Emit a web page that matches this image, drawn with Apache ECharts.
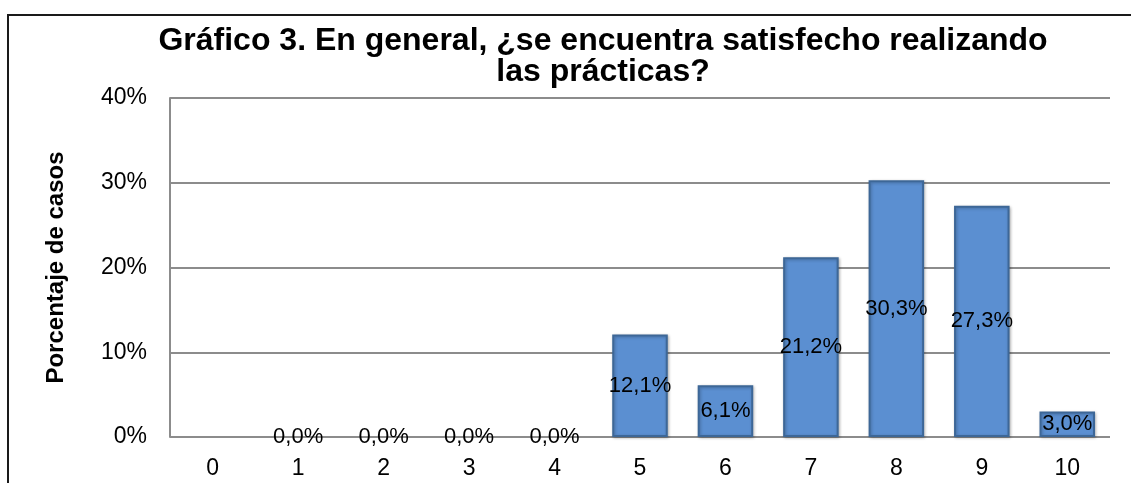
<!DOCTYPE html>
<html>
<head>
<meta charset="utf-8">
<script src="https://cdn.jsdelivr.net/npm/echarts@6/dist/echarts.min.js"></script>
<style>
  html, body { margin: 0; padding: 0; background: #fff; }
  #main { width: 1131px; height: 483px; }
</style>
</head>
<body>
<div id="main"></div>
<script>
// datos del gráfico
var categorias = ['0', '1', '2', '3', '4', '5', '6', '7', '8', '9', '10']
var porcentajes = [null, 0, 0, 0, 0, 12.1, 6.1, 21.2, 30.3, 27.3, 3.0]
var ticksY = [0, 10, 20, 30, 40]

var fuente = 'Liberation Sans, Arial, sans-serif'
var chart = echarts.init(document.getElementById('main'))

// las barras en cero no muestran borde
var datosBarras = porcentajes.map(function (v) {
  if (v === 0) return { value: v, itemStyle: { borderWidth: 0, shadowBlur: 0, shadowOffsetX: 0, shadowOffsetY: 0 } }
  return v
})

var option = {
  backgroundColor: '#fff',
  animation: false,
  title: {
    text: 'Gráfico 3. En general, ¿se encuentra satisfecho realizando\nlas prácticas?',
    left: 598,
    textAlign: 'center',
    top: 21,
    textStyle: {
      fontFamily: fuente,
      fontSize: 32,
      fontWeight: 'bold',
      color: '#000',
      lineHeight: 31
    }
  },
  // marco exterior
  graphic: [{
    type: 'rect',
    shape: { x: 8, y: 15, width: 1300, height: 700 },
    style: { fill: 'none', stroke: '#1a1a1a', lineWidth: 2 },
    silent: true
  }],
  grid: { left: 170, right: 21, top: 98, bottom: 46 },
  xAxis: {
    type: 'category',
    data: categorias,
    axisTick: { show: false },
    axisLine: { show: false },
    axisLabel: {
      fontFamily: fuente,
      fontSize: 23,
      color: '#000',
      margin: 20
    }
  },
  yAxis: {
    type: 'value',
    min: ticksY[0],
    max: ticksY[ticksY.length - 1],
    interval: 10,
    name: 'Porcentaje de casos',
    nameLocation: 'middle',
    nameGap: 102,
    nameTextStyle: {
      fontFamily: fuente,
      fontSize: 24,
      fontWeight: 'bold',
      color: '#000'
    },
    axisLine: { show: true, lineStyle: { color: '#8c8c8c', width: 2 } },
    axisTick: { show: false },
    splitLine: { lineStyle: { color: '#8c8c8c', width: 2 } },
    axisLabel: {
      fontFamily: fuente,
      fontSize: 23,
      color: '#000',
      margin: 23,
      formatter: '{value}%'
    }
  },
  series: [{
    type: 'bar',
    data: datosBarras,
    barWidth: '65%',
    itemStyle: {
      color: '#5b8fd1',
      borderColor: '#3d6797',
      borderWidth: 2,
      shadowColor: 'rgba(0,0,0,0.25)',
      shadowBlur: 3,
      shadowOffsetX: 1,
      shadowOffsetY: 1
    },
    label: {
      show: true,
      position: 'inside',
      fontFamily: fuente,
      fontSize: 22,
      color: '#000',
      formatter: function (p) {
        if (p.value == null) return ''
        return p.value.toFixed(1).replace('.', ',') + '%'
      }
    }
  }]
}

chart.setOption(option)
</script>
</body>
</html>
